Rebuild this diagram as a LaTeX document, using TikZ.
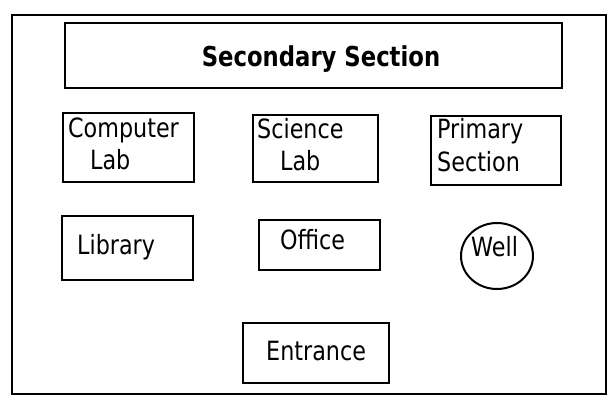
\documentclass[tikz,border=0pt]{standalone}
\usepackage{fontspec}
\setmainfont{DejaVu Sans}
\newfontfamily\narrowsans[FakeStretch=0.84]{DejaVu Sans}
\newfontfamily\narrowtitle[FakeStretch=0.83]{DejaVu Sans}
\usetikzlibrary{shapes.geometric}
\begin{document}
\begin{tikzpicture}[x=1pt,y=-1pt,
  box/.style={draw, line width=2pt, rectangle, inner sep=0pt},
  roomname/.style={anchor=base west, inner sep=0pt, font=\narrowsans\fontsize{26.5}{32}\selectfont},
  titletext/.style={anchor=base, inner sep=0pt, font=\narrowtitle\bfseries\fontsize{27.4}{32}\selectfont}]
\useasboundingbox (0,0) rectangle (613,403);

% outer frame of the school grounds
\node[box, line width=2.4pt, minimum width=594, minimum height=379] (frame) at (309,204.5) {};

% buildings
\node[box, minimum width=497, minimum height=65] (secondary) at (313.5,55.5) {};
\node[box, minimum width=131, minimum height=69] (complab) at (128.5,147.5) {};
\node[box, minimum width=125, minimum height=67] (scilab) at (315.5,148.5) {};
\node[box, minimum width=130, minimum height=69] (primary) at (496,150.5) {};
\node[box, minimum width=131, minimum height=64] (library) at (127.5,248) {};
\node[box, minimum width=121, minimum height=50] (office) at (319.5,245) {};
\node[draw, line width=2pt, ellipse, inner sep=0pt, minimum width=72, minimum height=66] (well) at (497,256) {};
\node[box, minimum width=146, minimum height=60] (entrance) at (316,353) {};

% names
\node[titletext] (secondary-t) at (321,66.5) {Secondary Section};
\node[roomname] (complab-t1) at (68,138) {Computer};
\node[roomname] (complab-t2) at (90,170) {Lab};
\node[roomname] (scilab-t1) at (257,139) {Science};
\node[roomname] (scilab-t2) at (280,171) {Lab};
\node[roomname] (primary-t1) at (437,139) {Primary};
\node[roomname] (primary-t2) at (437,172) {Section};
\node[roomname] (library-t) at (77,255) {Library};
\node[roomname] (office-t) at (280,250) {Office};
\node[roomname] (well-t) at (471,257) {Well};
\node[roomname] (entrance-t) at (266,360.5) {Entrance};
\end{tikzpicture}
\end{document}
